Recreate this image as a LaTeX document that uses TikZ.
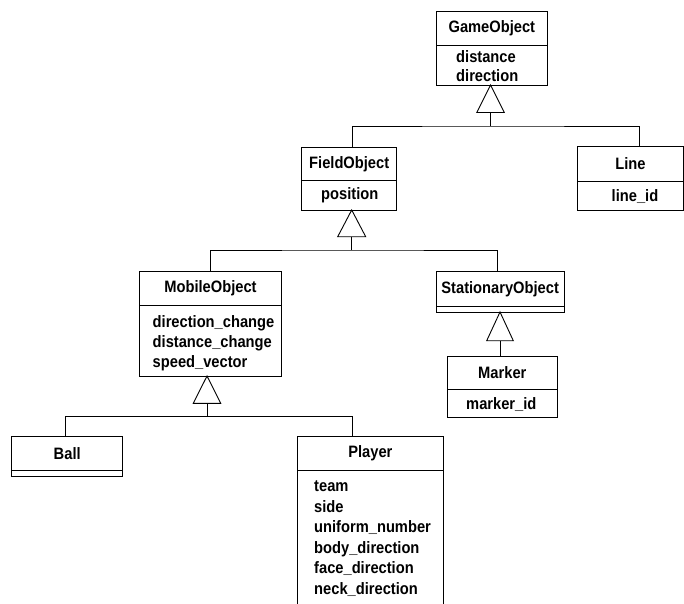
\documentclass[tikz,border=0pt]{standalone}
\usepackage{fontspec}
\setmainfont{Liberation Sans}[FakeStretch=0.89]
\usetikzlibrary{calc}
\begin{document}
\begin{tikzpicture}[x=1pt,y=-1pt,
  box/.style={draw, line width=0.9pt, outer sep=0pt, inner sep=0pt, anchor=north west},
  ttl/.style={box, font=\bfseries\fontsize{16.5}{18}\selectfont},
  attr/.style={anchor=base west, inner sep=0pt, font=\bfseries\fontsize{16.5}{18}\selectfont},
  inh/.style={line width=0.9pt, line join=miter}]
\fill[white] (0,0) rectangle (684,603);
\clip (0,0) rectangle (684,603);
% GameObject
\node[ttl, minimum width=111.7pt, minimum height=34pt] (G) at (436,11.7) {GameObject};
\node[box, minimum width=111.7pt, minimum height=39.3pt] (Ga) at (G.south west) {};
\node[attr] (Ga1) at (456,62.6) {distance};
\node[attr] (Ga2) at (456,81.9) {direction};
% Line
\node[ttl, minimum width=105.6pt, minimum height=34.3pt] (L) at (577.7,146.7) {Line};
\node[box, minimum width=105.6pt, minimum height=29.5pt] (La) at (L.south west) {};
\node[attr] (La1) at (611.5,201) {line\_id};
% FieldObject
\node[ttl, minimum width=95pt, minimum height=33.4pt] (F) at (301.7,147.3) {FieldObject};
\node[box, minimum width=95pt, minimum height=29.3pt] (Fa) at (F.south west) {};
\node[attr] (Fa1) at (321,199.2) {position};
% MobileObject
\node[ttl, minimum width=142.4pt, minimum height=33.3pt] (M) at (139.3,271.7) {MobileObject};
\node[box, minimum width=142.4pt, minimum height=71pt] (Ma) at (M.south west) {};
\node[attr] (Ma1) at (152.5,327.8) {direction\_change};
\node[attr] (Ma2) at (152.5,347.8) {distance\_change};
\node[attr] (Ma3) at (152.5,367.8) {speed\_vector};
% StationaryObject
\node[ttl, minimum width=128.3pt, minimum height=35pt] (S) at (436,271.7) {StationaryObject};
\node[box, minimum width=128.3pt, minimum height=5.3pt] (Sa) at (S.south west) {};
% Marker
\node[ttl, minimum width=110pt, minimum height=33.3pt] (K) at (447.3,356) {Marker};
\node[box, minimum width=110pt, minimum height=28.4pt] (Ka) at (K.south west) {};
\node[attr] (Ka1) at (466,409.5) {marker\_id};
% Ball
\node[ttl, minimum width=111pt, minimum height=33.3pt] (B) at (11.7,436.7) {Ball};
\node[box, minimum width=111pt, minimum height=6.7pt] (Ba) at (B.south west) {};
% Player
\node[ttl, minimum width=145.3pt, minimum height=33.3pt] (P) at (297.7,436.7) {Player};
\node[box, minimum width=145.3pt, minimum height=150pt] (Pa) at (P.south west) {};
\node[attr] (Pa1) at (314,491.5) {team};
\node[attr] (Pa2) at (314,512) {side};
\node[attr] (Pa3) at (314,532.5) {uniform\_number};
\node[attr] (Pa4) at (314,553) {body\_direction};
\node[attr] (Pa5) at (314,573.5) {face\_direction};
\node[attr] (Pa6) at (314,594) {neck\_direction};
% GameObject generalization
\draw[inh] ([xshift=-1.3pt]Ga.south) coordinate (gt) -- ++(-13.7,27.5) -- ++(27.4,0) -- cycle;
\draw[inh] ($(gt)+(0,27.5)$) -- ++(0,13.5) coordinate (gbar);
\draw[inh] ([xshift=3.1pt]F.north) |- (gbar) -| ([xshift=8.5pt]L.north);
% FieldObject generalization
\draw[inh] ([xshift=2.5pt]Fa.south) coordinate (ft) -- ++(-14,26.7) -- ++(28,0) -- cycle;
\draw[inh] ($(ft)+(0,26.7)$) -- ++(0,13.3) coordinate (fbar);
\draw[inh] ([xshift=-0.5pt]M.north) |- (fbar) -| ([xshift=-2.9pt]S.north);
% MobileObject generalization
\draw[inh] ([xshift=-3.5pt]Ma.south) coordinate (mt) -- ++(-13.7,27.3) -- ++(27.4,0) -- cycle;
\draw[inh] ($(mt)+(0,27.3)$) -- ++(0,12.7) coordinate (mbar);
\draw[inh] ([xshift=-1.5pt]B.north) |- (mbar) -| ([xshift=-18pt]P.north);
% StationaryObject generalization
\draw[inh] ([xshift=-0.15pt]Sa.south) coordinate (st) -- ++(-13.3,28.7) -- ++(26.6,0) -- cycle;
\draw[inh] ($(st)+(0,28.7)$) -- ([xshift=-2.3pt]K.north);
\end{tikzpicture}
\end{document}
